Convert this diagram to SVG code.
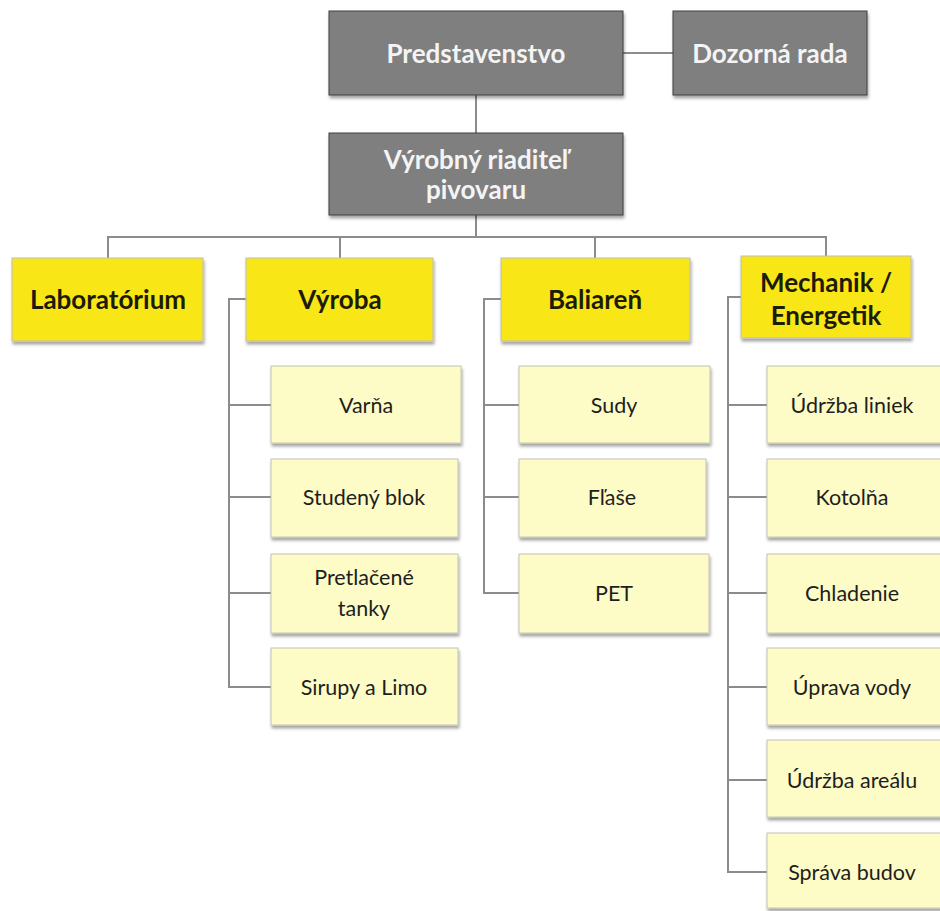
<svg xmlns="http://www.w3.org/2000/svg" width="940" height="911" viewBox="0 0 940 911">
  <defs>
    <filter id="shadow" x="-10%" y="-10%" width="130%" height="140%">
      <feDropShadow dx="1" dy="3" stdDeviation="1.5" flood-color="#000" flood-opacity="0.35"/>
    </filter>
    <style>
      .top { fill: #7f7f7f; stroke: #3f3f3f; stroke-width: 1; filter: url(#shadow); }
      .dept { fill: #f9e612; stroke: #bdbdbd; stroke-width: 1; filter: url(#shadow); }
      .unit { fill: #fdfbc6; stroke: #c4c4b4; stroke-width: 1; filter: url(#shadow); }
      .t-top { font-family: Lato, "Liberation Sans", sans-serif; font-weight: bold; font-size: 26px; fill: #f4f4f4; text-anchor: middle; dominant-baseline: central; }
      .t-dept { font-family: Lato, "Liberation Sans", sans-serif; font-weight: bold; font-size: 26px; fill: #1c1c06; text-anchor: middle; dominant-baseline: central; }
      .t-unit { font-family: Lato, "Liberation Sans", sans-serif; font-size: 21.5px; fill: #1e1e1e; text-anchor: middle; dominant-baseline: central; }
      .conn { fill: none; stroke: #8c8c8c; stroke-width: 2; }
    </style>
  </defs>
  <rect width="940" height="911" fill="#ffffff"/>

  <!-- connectors -->
  <g id="connectors" class="conn">
    <path d="M623 53 H673"/>
    <path d="M476 95 V133"/>
    <path d="M476 215 V237"/>
    <path d="M108 258 V237 H826 V256"/>
    <path d="M340 237 V258"/>
    <path d="M595 237 V258"/>
    <!-- Výroba -->
    <path d="M246 299 H229 V687 H271"/>
    <path d="M229 405 H271"/>
    <path d="M229 497 H271"/>
    <path d="M229 593 H271"/>
    <!-- Baliareň -->
    <path d="M501 299 H484 V593 H519"/>
    <path d="M484 405 H519"/>
    <path d="M484 497 H519"/>
    <!-- Mechanik / Energetik -->
    <path d="M741 297 H728 V872 H767"/>
    <path d="M728 405 H767"/>
    <path d="M728 497 H767"/>
    <path d="M728 593 H767"/>
    <path d="M728 687 H767"/>
    <path d="M728 780 H767"/>
  </g>

  <!-- management -->
  <g id="predstavenstvo">
    <rect class="top" x="329" y="11" width="294" height="84"/>
    <text class="t-top" x="476" y="53">Predstavenstvo</text>
  </g>
  <g id="dozorna-rada">
    <rect class="top" x="673" y="11" width="194" height="84"/>
    <text class="t-top" x="770" y="53">Dozorná rada</text>
  </g>
  <g id="vyrobny-riaditel">
    <rect class="top" x="329" y="133" width="294" height="82"/>
    <text class="t-top" x="476" y="159">Výrobný riaditeľ</text>
    <text class="t-top" x="476" y="189">pivovaru</text>
  </g>

  <!-- departments -->
  <g id="laboratorium">
    <rect class="dept" x="12" y="258" width="191" height="83"/>
    <text class="t-dept" x="108" y="299">Laboratórium</text>
  </g>
  <g id="vyroba">
    <rect class="dept" x="246" y="258" width="187" height="83"/>
    <text class="t-dept" x="340" y="299">Výroba</text>
  </g>
  <g id="baliaren">
    <rect class="dept" x="501" y="258" width="189" height="83"/>
    <text class="t-dept" x="595" y="299">Baliareň</text>
  </g>
  <g id="mechanik-energetik">
    <rect class="dept" x="741" y="256" width="170" height="82"/>
    <text class="t-dept" x="826" y="282">Mechanik /</text>
    <text class="t-dept" x="826" y="315">Energetik</text>
  </g>

  <!-- Výroba units -->
  <g id="varna">
    <rect class="unit" x="271" y="366" width="190" height="77"/>
    <text class="t-unit" x="366" y="405">Varňa</text>
  </g>
  <g id="studeny-blok">
    <rect class="unit" x="271" y="459" width="187" height="78"/>
    <text class="t-unit" x="364" y="497">Studený blok</text>
  </g>
  <g id="pretlacene-tanky">
    <rect class="unit" x="271" y="554" width="187" height="79"/>
    <text class="t-unit" x="364" y="577">Pretlačené</text>
    <text class="t-unit" x="364" y="608">tanky</text>
  </g>
  <g id="sirupy-limo">
    <rect class="unit" x="271" y="648" width="187" height="77"/>
    <text class="t-unit" x="364" y="687">Sirupy a Limo</text>
  </g>

  <!-- Baliareň units -->
  <g id="sudy">
    <rect class="unit" x="519" y="366" width="191" height="77"/>
    <text class="t-unit" x="614" y="405">Sudy</text>
  </g>
  <g id="flase">
    <rect class="unit" x="519" y="459" width="187" height="78"/>
    <text class="t-unit" x="612" y="497">Fľaše</text>
  </g>
  <g id="pet">
    <rect class="unit" x="519" y="554" width="190" height="79"/>
    <text class="t-unit" x="614" y="593">PET</text>
  </g>

  <!-- Mechanik / Energetik units -->
  <g id="udrzba-liniek">
    <rect class="unit" x="767" y="366" width="180" height="77"/>
    <text class="t-unit" x="852" y="405">Údržba liniek</text>
  </g>
  <g id="kotolna">
    <rect class="unit" x="767" y="459" width="180" height="78"/>
    <text class="t-unit" x="852" y="497">Kotolňa</text>
  </g>
  <g id="chladenie">
    <rect class="unit" x="767" y="554" width="180" height="79"/>
    <text class="t-unit" x="852" y="593">Chladenie</text>
  </g>
  <g id="uprava-vody">
    <rect class="unit" x="767" y="648" width="180" height="77"/>
    <text class="t-unit" x="852" y="687">Úprava vody</text>
  </g>
  <g id="udrzba-arealu">
    <rect class="unit" x="767" y="740" width="180" height="77"/>
    <text class="t-unit" x="852" y="780">Údržba areálu</text>
  </g>
  <g id="sprava-budov">
    <rect class="unit" x="767" y="833" width="180" height="75"/>
    <text class="t-unit" x="852" y="872">Správa budov</text>
  </g>
</svg>
